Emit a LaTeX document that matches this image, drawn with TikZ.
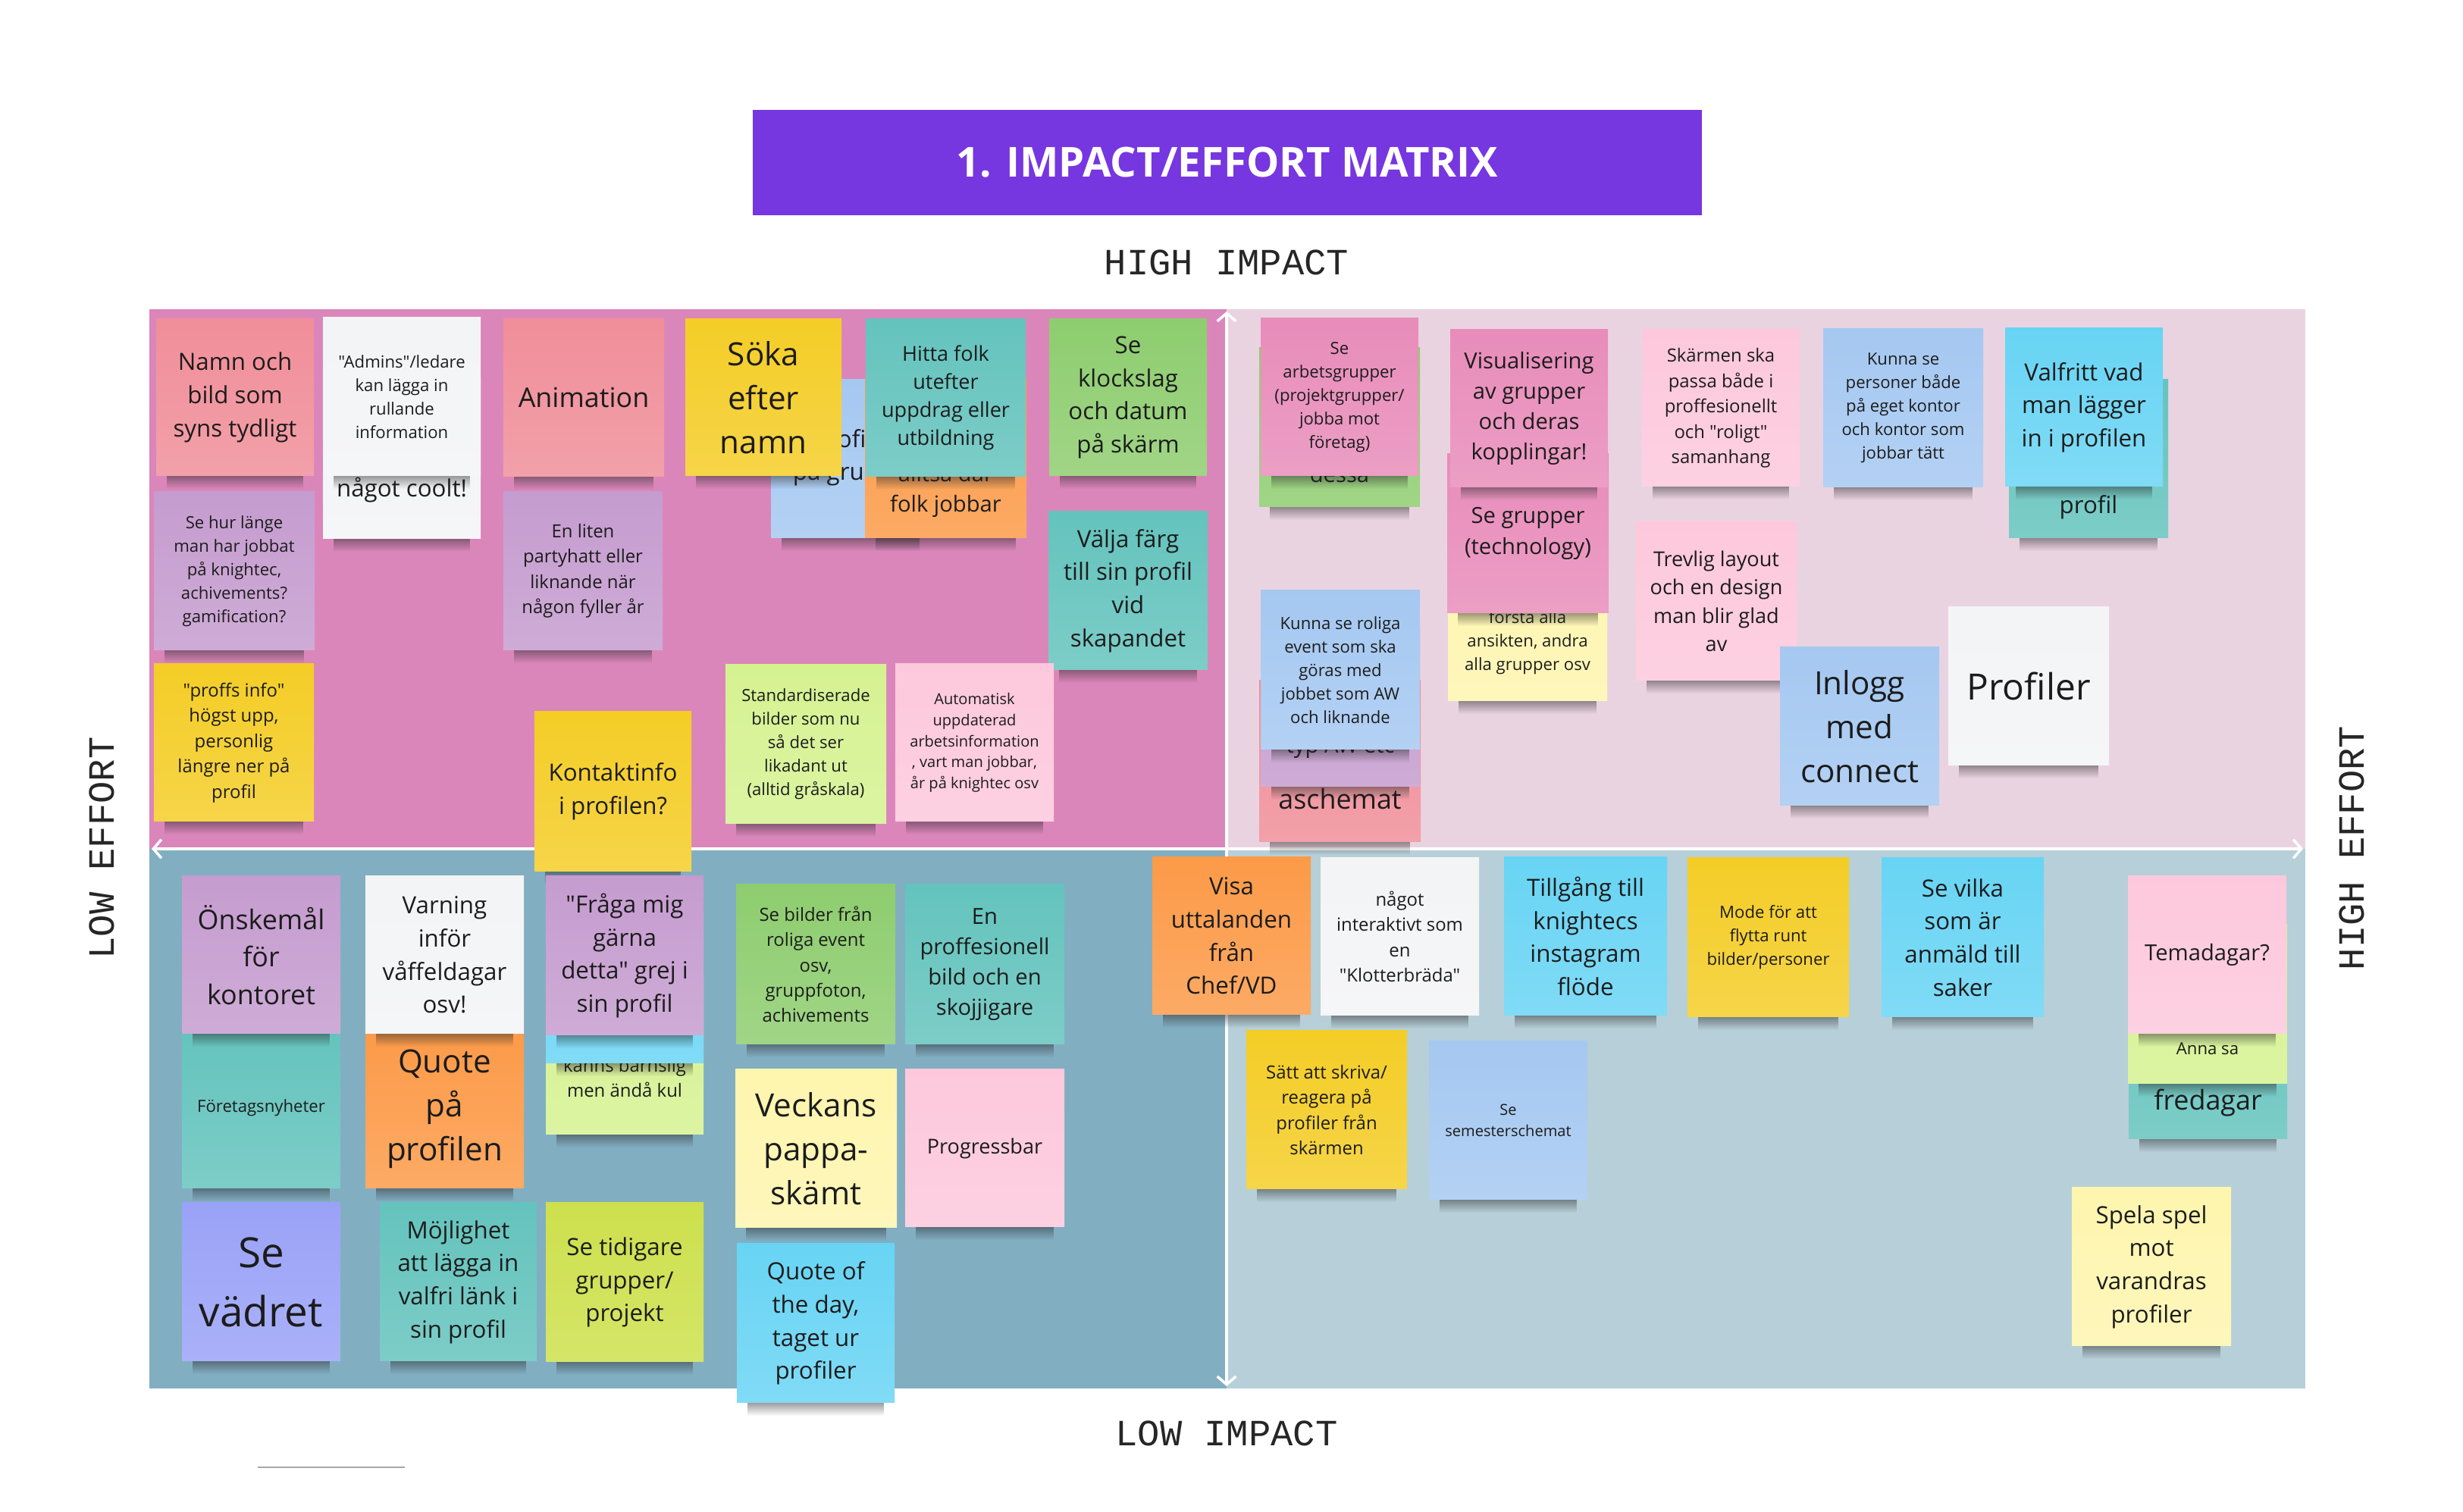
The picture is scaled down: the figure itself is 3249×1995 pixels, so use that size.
\documentclass[tikz,border=0pt]{standalone}
\usepackage{fontspec}
\newfontfamily\osans{Open Sans}
\newfontfamily\lblfont{Liberation Mono}
\usetikzlibrary{arrows.meta,fadings}

\definecolor{qTL}{HTML}{DB86BA}
\definecolor{qTR}{HTML}{EAD3E1}
\definecolor{qBL}{HTML}{82AEC2}
\definecolor{qBR}{HTML}{B7CFD8}
\definecolor{ttl}{HTML}{7636E0}
\definecolor{cSalmon}{HTML}{F08E99}
\definecolor{cWhite}{HTML}{F3F4F6}
\definecolor{cPurple}{HTML}{C59CCF}
\definecolor{cYellow}{HTML}{F4CD26}
\definecolor{cBlue}{HTML}{A5C8F1}
\definecolor{cOrange}{HTML}{FC9A48}
\definecolor{cTeal}{HTML}{64C3BD}
\definecolor{cGreen}{HTML}{8ECD6F}
\definecolor{cLime}{HTML}{D5F291}
\definecolor{cLPink}{HTML}{FDC8DC}
\definecolor{cRose}{HTML}{E88CBA}
\definecolor{cCyan}{HTML}{68D4F4}
\definecolor{cLYellow}{HTML}{FEF5AE}
\definecolor{cPeri}{HTML}{9AA2F7}
\definecolor{cYGreen}{HTML}{CDE04C}
\definecolor{ink}{HTML}{1C1C1C}

\newcommand\fA{\osans\fontsize{5.7pt}{7.9pt}\selectfont}
\newcommand\fB{\osans\fontsize{6.3pt}{8.8pt}\selectfont}
\newcommand\fC{\osans\fontsize{6.8pt}{9.5pt}\selectfont}
\newcommand\fD{\osans\fontsize{7.7pt}{10.6pt}\selectfont}
\newcommand\fE{\osans\fontsize{8.3pt}{11.4pt}\selectfont}
\newcommand\fF{\osans\fontsize{8.9pt}{12.4pt}\selectfont}
\newcommand\fG{\osans\fontsize{10.2pt}{14pt}\selectfont}
\newcommand\fH{\osans\fontsize{12pt}{16.5pt}\selectfont}
\newcommand\fI{\osans\fontsize{13.6pt}{18pt}\selectfont}
\newcommand\fJ{\osans\fontsize{15.6pt}{22.2pt}\selectfont}

\tikzfading[name=shfade, top color=transparent!5, bottom color=transparent!100]

\tikzset{
  note/.style={rectangle, inner sep=0pt, align=center, text=ink, font=\fF},
  ntext/.style={inner sep=0pt, align=center, text=ink},
  shadowc/.style={fill=black!85, opacity=0.5, path fading=shfade},
  axisline/.style={white, line width=1pt,
    {Straight Barb[length=3pt,width=7pt]}-{Straight Barb[length=3pt,width=7pt]}},
  mono/.style={font=\lblfont\fontsize{13.9pt}{16pt}\selectfont, text=black!85, inner sep=0pt},
}

% [opts]{name}{x1}{y1 top}{x2}{y2 bottom}{colour}{text}  (y measured downward)
\newcommand\stk[8][]{%
  \fill[shadowc] ({#3+14},{1995-#6+1}) rectangle ({#5-14},{1995-#6-17});
  \node[note, top color=#7, bottom color=#7!84!white,
        minimum width={(#5-#3)*0.01cm}, minimum height={(#6-#4)*0.01cm}, #1]
        (#2) at ({(#3+#5)/2},{1995-(#4+#6)/2}) {#8};
}

\begin{document}
\begin{tikzpicture}[x=0.01cm, y=0.01cm]
\useasboundingbox (0,0) rectangle (3249,1995);
\fill[white] (0,0) rectangle (3249,1995);

% quadrants
\fill[qTL] (197,{1995-408}) rectangle (1618,{1995-1120});
\fill[qTR] (1618,{1995-408}) rectangle (3041,{1995-1120});
\fill[qBL] (197,{1995-1120}) rectangle (1618,{1995-1832});
\fill[qBR] (1618,{1995-1120}) rectangle (3041,{1995-1832});

% axes
\coordinate (aT) at (1618,{1995-411});
\coordinate (aB) at (1618,{1995-1829});
\coordinate (aL) at (200,{1995-1120});
\coordinate (aR) at (3038,{1995-1120});
\draw[axisline] (aL) -- (aR);
\draw[axisline] (aB) -- (aT);

% title and labels
\node[fill=ttl, minimum width=12.52cm, minimum height=1.39cm, inner sep=0pt,
      text=white, font=\osans\bfseries\fontsize{15.5pt}{18pt}\selectfont]
      (title) at (1619,{1995-214.5}) {1. IMPACT/EFFORT MATRIX};
\node[mono] (hiImp) at (1618,{1995-346}) {HIGH IMPACT};
\node[mono] (loImp) at (1618,{1995-1891}) {LOW IMPACT};
\node[mono, rotate=90] (loEff) at (134,{1995-1119}) {LOW EFFORT};
\node[mono, rotate=90] (hiEff) at (3102,{1995-1119}) {HIGH EFFORT};
\coordinate (g1) at (340,{1995-1936});
\coordinate (g2) at (534,{1995-1936});
\draw[black!35, line width=0.6pt] (g1) -- (g2);

% ---------- top-left ----------
\stk[font=\fF]{nNamn}{206}{421}{414}{628}{cSalmon}{Namn och\\bild som\\syns tydligt}
\stk[font=\fF]{nCoolt}{426}{499}{634}{711}{cWhite}{}
\node[ntext, font=\fF] (tCoolt) at (530,{1995-647}) {något coolt!};
\stk[font=\fB]{nAdmins}{426}{419}{634}{628}{cWhite}{"Admins"/ledare\\kan lägga in\\rullande\\information}
\stk[font=\fG]{nAnim}{664}{421}{876}{629}{cSalmon}{Animation}
\stk[font=\fB]{nLange}{203}{649}{415}{858}{cPurple}{Se hur länge\\man har jobbat\\på knightec,\\achivements?\\gamification?}
\stk[font=\fC]{nParty}{664}{649}{874}{858}{cPurple}{En liten\\partyhatt eller\\liknande när\\någon fyller år}
\stk[font=\fC]{nProffs}{203}{876}{414}{1084}{cYellow}{"proffs info"\\högst upp,\\personlig\\längre ner på\\profil}
\stk[font=\fF]{nProfil}{1017}{501}{1227}{710}{cBlue}{}
\node[ntext, font=\fF] (tProfil) at (1112,{1995-604}) {Profil\\på grupp};
\stk[font=\fE]{nJobbar}{1141}{500}{1354}{710}{cOrange}{}
\node[ntext, font=\fE] (tJobbar) at (1247.5,{1995-647.5}) {alltså där\\folk jobbar};
\stk[font=\fH]{nSoka}{904}{421}{1110}{628}{cYellow}{Söka\\efter\\namn}
\stk[font=\fD]{nHitta}{1142}{421}{1353}{629}{cTeal}{Hitta folk\\utefter\\uppdrag eller\\utbildning}
\stk[font=\fF]{nKlock}{1384}{421}{1592}{628}{cGreen}{Se\\klockslag\\och datum\\på skärm}
\stk[font=\fF]{nValja}{1383}{675}{1593}{884}{cTeal}{Välja färg\\till sin profil\\vid\\skapandet}
\stk[font=\fB]{nStand}{957}{877}{1169}{1087}{cLime}{Standardiserade\\bilder som nu\\så det ser\\likadant ut\\(alltid gråskala)}
\stk[font=\fA]{nAuto}{1181}{876}{1390}{1084}{cLPink}{Automatisk\\uppdaterad\\arbetsinformation\\, vart man jobbar,\\år på knightec osv}
\stk[font=\fF]{nKontakt}{705}{939}{912}{1150}{cYellow}{Kontaktinfo\\i profilen?}

% ---------- top-right ----------
\stk[font=\fE]{nDessa}{1661}{459}{1873}{669}{cGreen}{}
\node[ntext, font=\fE] (tDessa) at (1767,{1995-626}) {dessa};
\stk[font=\fB]{nArbets}{1663}{420}{1871}{628}{cRose}{Se\\arbetsgrupper\\(projektgrupper/\\jobba mot\\företag)}
\stk[font=\fG]{nAschemat}{1661}{898}{1874}{1111}{cSalmon}{}
\node[ntext, font=\fG] (tAschemat) at (1767.5,{1995-1054}) {aschemat};
\stk[font=\fE]{nTypAW}{1663}{829}{1873}{1038}{cPurple}{}
\node[ntext, font=\fE] (tTypAW) at (1768,{1995-987}) {typ AW etc};
\stk[font=\fB]{nRoliga}{1663}{779}{1873}{989}{cBlue}{Kunna se roliga\\event som ska\\göras med\\jobbet som AW\\och liknande}
\stk[font=\fB]{nLayout}{1910}{711}{2120}{925}{cLYellow}{}
\node[ntext, font=\fB] (tLayout) at (2015,{1995-847.5}) {första alla\\ansikten, andra\\alla grupper osv};
\stk[font=\fE]{nTech}{1909}{599}{2122}{809}{cRose}{Se grupper\\(technology)}
\stk[font=\fE]{nVisual}{1913}{435}{2121}{643}{cRose}{Visualisering\\av grupper\\och deras\\kopplingar!}
\stk[font=\fC]{nSkarm}{2166}{435}{2374}{642}{cLPink}{Skärmen ska\\passa både i\\proffesionellt\\och "roligt"\\samanhang}
\stk[font=\fD]{nTrevlig}{2158}{689}{2370}{898}{cLPink}{Trevlig layout\\och en design\\man blir glad\\av}
\stk[font=\fB]{nPersoner}{2405}{434}{2616}{643}{cBlue}{Kunna se\\personer både\\på eget kontor\\och kontor som\\jobbar tätt}
\stk[font=\fF]{nEgen}{2650}{501}{2860}{710}{cTeal}{}
\node[ntext, font=\fF] (tEgen) at (2755,{1995-669}) {profil};
\stk[font=\fF]{nValfritt}{2645}{433}{2853}{642}{cCyan}{Valfritt vad\\man lägger\\in i profilen}
\stk[font=\fH]{nInlogg}{2348}{854}{2558}{1063}{cBlue}{Inlogg\\med\\connect}
\stk[font=\fI]{nProfiler}{2570}{801}{2782}{1010}{cWhite}{Profiler}

% ---------- bottom-left ----------
\stk[font=\fC]{nBarnslig}{720}{1287}{928}{1497}{cLime}{}
\node[ntext, font=\fC] (tBarnslig) at (824,{1995-1422}) {kanns barnslig\\men ändå kul};
\stk[font=\fF]{nCyanQ}{720}{1193}{928}{1403}{cCyan}{}
\stk[font=\fF]{nFraga}{720}{1156}{928}{1366}{cPurple}{"Fråga mig\\gärna\\detta" grej i\\sin profil}
\stk[font=\fB]{nNyheter}{240}{1355}{449}{1568}{cTeal}{Företagsnyheter}
\stk[font=\fG]{nOnske}{240}{1156}{449}{1364}{cPurple}{Önskemål\\för\\kontoret}
\stk[font=\fH]{nQuote}{482}{1358}{691}{1568}{cOrange}{Quote\\på\\profilen}
\stk[font=\fF]{nVarning}{482}{1156}{691}{1364}{cWhite}{Varning\\inför\\våffeldagar\\osv!}
\stk[font=\fJ]{nVadret}{240}{1587}{449}{1796}{cPeri}{Se\\vädret}
\stk[font=\fF]{nMojlig}{501}{1587}{708}{1796}{cTeal}{Möjlighet\\att lägga in\\valfri länk i\\sin profil}
\stk[font=\fF]{nTidigare}{720}{1587}{928}{1797}{cYGreen}{Se tidigare\\grupper/\\projekt}
\stk[font=\fC]{nBilder}{971}{1167}{1181}{1378}{cGreen}{Se bilder från\\roliga event\\osv,\\gruppfoton,\\achivements}
\stk[font=\fE]{nProff}{1194}{1167}{1404}{1378}{cTeal}{En\\proffesionell\\bild och en\\skojjigare}
\stk[font=\fH]{nVeckans}{970}{1411}{1183}{1620}{cLYellow}{Veckans\\pappa-\\skämt}
\stk[font=\fD]{nProgress}{1194}{1411}{1404}{1619}{cLPink}{Progressbar}
\stk[font=\fF]{nQotd}{972}{1641}{1180}{1851}{cCyan}{Quote of\\the day,\\taget ur\\profiler}

% ---------- bottom-right ----------
\stk[font=\fF]{nVisa}{1520}{1131}{1729}{1339}{cOrange}{Visa\\uttalanden\\från\\Chef/VD}
\stk[font=\fC]{nKlotter}{1742}{1132}{1951}{1340}{cWhite}{något\\interaktivt som\\en\\"Klotterbräda"}
\stk[font=\fF]{nInsta}{1984}{1131}{2199}{1340}{cCyan}{Tillgång till\\knightecs\\instagram\\flöde}
\stk[font=\fC]{nSkriva}{1644}{1360}{1856}{1569}{cYellow}{Sätt att skriva/\\reagera på\\profiler från\\skärmen}
\stk[font=\fA]{nSemester}{1885}{1374}{2094}{1583}{cBlue}{Se\\semesterschemat}
\stk[font=\fB]{nMode}{2226}{1132}{2439}{1342}{cYellow}{Mode för att\\flytta runt\\bilder/personer}
\stk[font=\fF]{nVilka}{2482}{1132}{2696}{1342}{cCyan}{Se vilka\\som är\\anmäld till\\saker}
\stk[font=\fG]{nFredag}{2808}{1293}{3017}{1503}{cTeal}{}
\node[ntext, font=\fG] (tFredag) at (2912.5,{1995-1455}) {fredagar};
\stk[font=\fB]{nAnna}{2807}{1220}{3017}{1430}{cLime}{}
\node[ntext, font=\fB] (tAnna) at (2912,{1995-1384}) {Anna sa};
\stk[font=\fE]{nTema}{2807}{1156}{3016}{1364}{cLPink}{Temadagar?}
\stk[font=\fF]{nSpela}{2733}{1567}{2943}{1776}{cLYellow}{Spela spel\\mot\\varandras\\profiler}
\end{tikzpicture}
\end{document}
